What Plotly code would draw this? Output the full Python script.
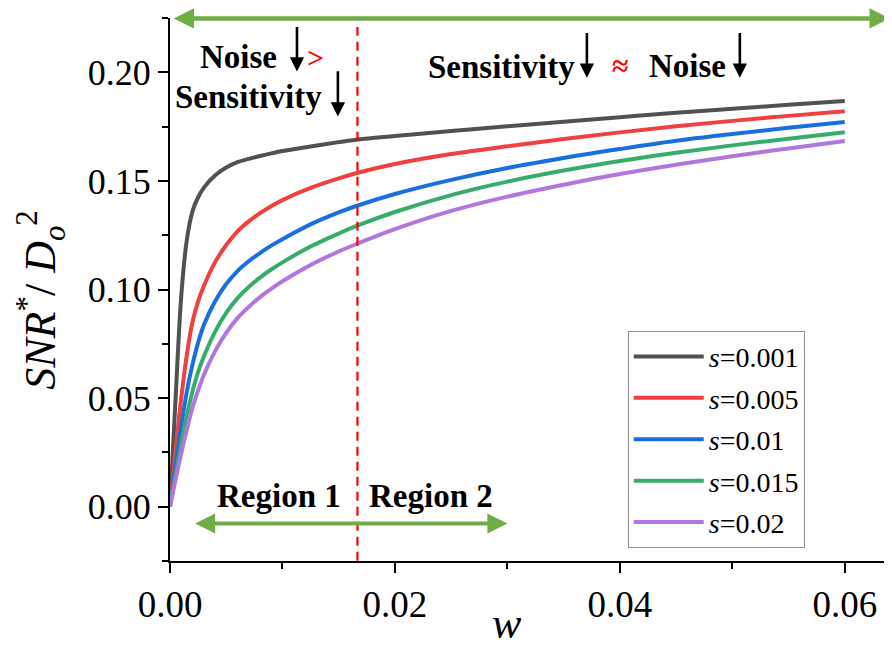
import plotly.graph_objects as go

# ---------------- data ----------------
w = [0, 0.0005, 0.001, 0.0015, 0.002, 0.0025, 0.003, 0.004, 0.005, 0.006, 0.007,
     0.008, 0.009, 0.010, 0.0125, 0.015, 0.0167, 0.020, 0.025, 0.030, 0.035,
     0.040, 0.045, 0.050, 0.055, 0.060]

snr_s0001 = [0, 0.050, 0.097, 0.123, 0.136, 0.1425, 0.1468, 0.1525, 0.1562, 0.1587, 0.1602,
             0.1615, 0.1627, 0.1638, 0.1659, 0.1679, 0.1691, 0.1707, 0.1730, 0.1752, 0.1773,
             0.1794, 0.1814, 0.1833, 0.1851, 0.1869]
snr_s0005 = [0, 0.026, 0.050, 0.070, 0.085, 0.0945, 0.1015, 0.1125, 0.1205, 0.1268, 0.1314,
             0.1352, 0.1384, 0.1412, 0.1468, 0.1512, 0.1538, 0.1578, 0.1624, 0.1660, 0.1693,
             0.1724, 0.1752, 0.1777, 0.1800, 0.1821]
snr_s001 = [0, 0.019, 0.037, 0.053, 0.0655, 0.0755, 0.0835, 0.0945, 0.1025, 0.1085, 0.1130,
            0.1168, 0.1202, 0.1232, 0.1300, 0.1355, 0.1387, 0.1440, 0.1505, 0.1560, 0.1606,
            0.1647, 0.1685, 0.1716, 0.1745, 0.1772]
snr_s0015 = [0, 0.015, 0.029, 0.042, 0.053, 0.0620, 0.069, 0.0805, 0.0892, 0.0960, 0.1012,
             0.1055, 0.1092, 0.1125, 0.1198, 0.1258, 0.1295, 0.1357, 0.1435, 0.1497, 0.1548,
             0.1592, 0.1630, 0.1664, 0.1695, 0.1725]
snr_s002 = [0, 0.0125, 0.0245, 0.0355, 0.0455, 0.0535, 0.0605, 0.0715, 0.0800, 0.0868, 0.0920,
            0.0965, 0.1003, 0.1038, 0.1113, 0.1175, 0.1212, 0.1278, 0.1362, 0.1428, 0.1483,
            0.1532, 0.1575, 0.1614, 0.1650, 0.1684]

series = [
    ("<i>s</i>=0.001", snr_s0001, "#515151"),
    ("<i>s</i>=0.005", snr_s0005, "#F14040"),
    ("<i>s</i>=0.01", snr_s001, "#1A6FDF"),
    ("<i>s</i>=0.015", snr_s0015, "#37AD6B"),
    ("<i>s</i>=0.02", snr_s002, "#B177DE"),
]

x_ticks = [0.00, 0.02, 0.04, 0.06]
x_ticklabels = ["0.00", "0.02", "0.04", "0.06"]
y_ticks = [0.00, 0.05, 0.10, 0.15, 0.20]
y_ticklabels = ["0.00", "0.05", "0.10", "0.15", "0.20"]

w_boundary = 1 / 60  # region boundary (dashed line)

SERIF = "Liberation Serif, Times New Roman, serif"

fig = go.Figure()
for i, (name, vals, col) in enumerate(series):
    fig.add_trace(go.Scatter(
        x=w, y=vals, mode="lines", name=name, legendgroup=f"g{i}",
        line=dict(color=col, width=4, shape="spline", smoothing=1.0),
    ))

# page body has an 8px default margin, so the figure is 8px smaller than the window
fig.update_layout(
    width=884, height=644,
    margin=dict(l=162, r=0, t=10, b=91),
    paper_bgcolor="white", plot_bgcolor="white",
    font=dict(family=SERIF, color="black"),
    showlegend=True,
    legend=dict(
        x=0.634, y=0.424, xanchor="left", yanchor="top",
        bordercolor="#8c8c8c", borderwidth=1, bgcolor="white",
        font=dict(family=SERIF, size=28, color="black"),
        tracegroupgap=2, itemwidth=70,
    ),
)

fig.update_xaxes(
    range=[0, 0.0642], showgrid=False, zeroline=False, automargin=False,
    showline=True, linecolor="black", linewidth=2,
    ticks="outside", ticklen=10, tickwidth=2, tickcolor="black",
    tickvals=x_ticks, ticktext=x_ticklabels,
    tickfont=dict(family=SERIF, size=37, color="black"),
    minor=dict(dtick=0.01, tick0=0, ticks="outside", ticklen=6,
               tickwidth=2, tickcolor="black", showgrid=False),
)
fig.update_yaxes(
    range=[-0.0251, 0.2251], showgrid=False, zeroline=False, automargin=False,
    showline=True, linecolor="black", linewidth=2,
    ticks="outside", ticklen=10, tickwidth=2, tickcolor="black",
    tickvals=y_ticks, ticktext=y_ticklabels,
    tickfont=dict(family=SERIF, size=36, color="black"),
    minor=dict(dtick=0.025, tick0=0, ticks="outside", ticklen=6,
               tickwidth=2, tickcolor="black", showgrid=False),
)

# y-axis title
fig.add_annotation(x=-0.1790, y=0.4807, xref="paper", yref="paper",
                   text="<i>SNR</i><sup>*</sup>/ <i>D<sub>o</sub></i><sup>2</sup>",
                   textangle=-90, showarrow=False,
                   font=dict(family=SERIF, size=44, color="black"),
                   xanchor="center", yanchor="middle")

# x-axis title centred on the 0-0.06 span
fig.add_annotation(x=0.03, xref="x", y=-0.115, yref="paper",
                   text="<i>w</i>", showarrow=False,
                   font=dict(family=SERIF, size=44, color="black"),
                   xanchor="center", yanchor="middle")

# region boundary
fig.add_shape(type="line", x0=w_boundary, x1=w_boundary, y0=-0.025, y1=0.221,
              xref="x", yref="y", line=dict(color="#FF0000", width=2.2, dash="9px,6px"))

GREEN = "#70AD47"
# top double arrow
fig.add_annotation(x=0.0640, y=0.2249, ax=0.0002, ay=0.2249,
                   xref="x", yref="y", axref="x", ayref="y", text="",
                   showarrow=True, arrowhead=2, startarrowhead=2, arrowside="end+start",
                   arrowsize=0.9, startarrowsize=0.9, arrowwidth=4.5, arrowcolor=GREEN)
# bottom double arrow
fig.add_annotation(x=0.0300, y=-0.0078, ax=0.0021, ay=-0.0078,
                   xref="x", yref="y", axref="x", ayref="y", text="",
                   showarrow=True, arrowhead=2, startarrowhead=2, arrowside="end+start",
                   arrowsize=1.0, startarrowsize=1.0, arrowwidth=4, arrowcolor=GREEN)

BOLD = dict(family=SERIF, size=33, color="black", weight="bold")
texts = [
    ("Noise", 0.00613, 0.2072),
    ("Sensitivity", 0.00702, 0.1889),
    ("Sensitivity", 0.02951, 0.2026),
    ("Noise", 0.04604, 0.2030),
    ("Region 1", 0.00969, 0.0047),
    ("Region 2", 0.02320, 0.0047),
]
for t, xx, yy in texts:
    fig.add_annotation(x=xx, y=yy, xref="x", yref="y", text=f"<b>{t}</b>",
                       showarrow=False, font=BOLD, xanchor="center", yanchor="middle")

fig.add_annotation(x=0.01298, y=0.2068, xref="x", yref="y", text="<b>&gt;</b>",
                   showarrow=False, font=dict(family=SERIF, size=30, color="#FF0000"),
                   xanchor="center", yanchor="middle")
fig.add_annotation(x=0.0400, y=0.2032, xref="x", yref="y", text="<b>≈</b>",
                   showarrow=False, font=dict(family=SERIF, size=30, color="#FF0000"),
                   xanchor="center", yanchor="middle")

# black down arrows
for xx, ytop, ybot in [(0.01129, 0.2216, 0.2004), (0.01493, 0.2013, 0.1797),
                       (0.03707, 0.2189, 0.1976), (0.05067, 0.2189, 0.1976)]:
    fig.add_annotation(x=xx, y=ybot, ax=xx, ay=ytop, xref="x", yref="y",
                       axref="x", ayref="y", text="", showarrow=True,
                       arrowhead=2, arrowsize=1.1, arrowwidth=2.6, arrowcolor="black")

fig.write_html("out.html")
